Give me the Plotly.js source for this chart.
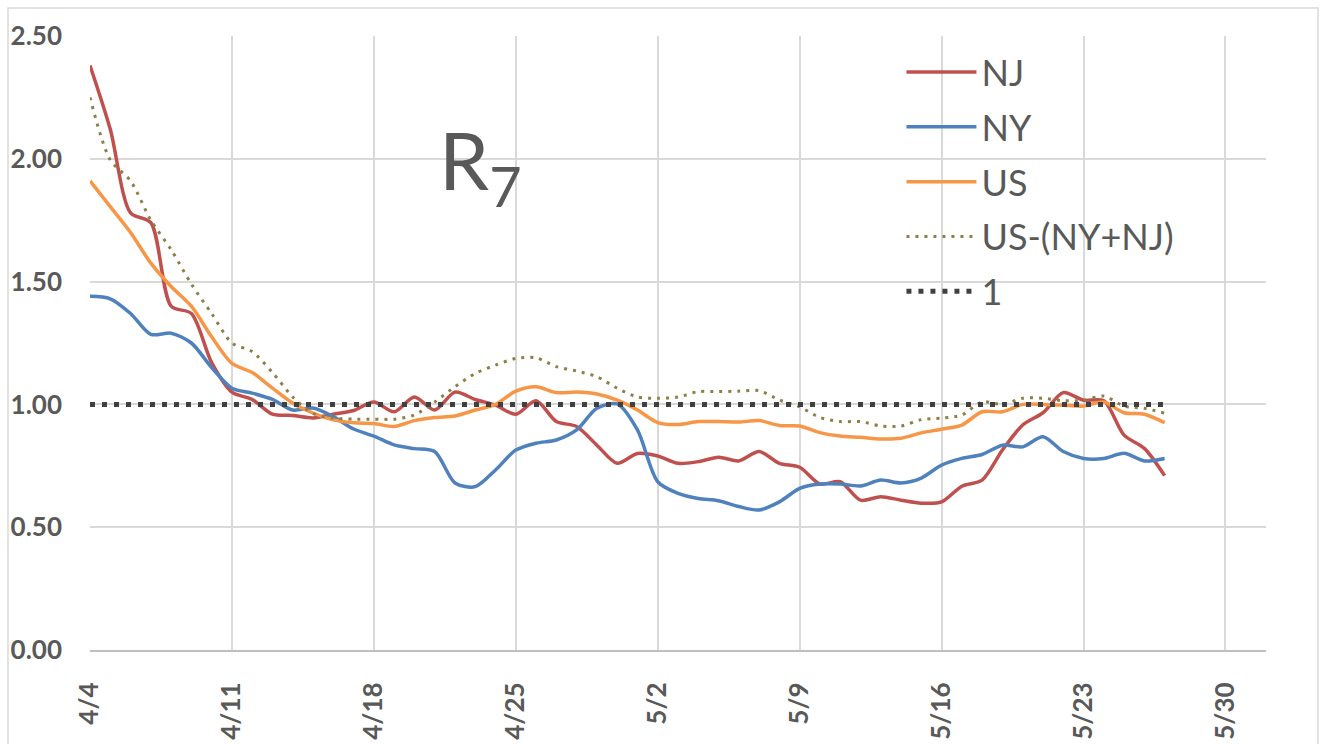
<!DOCTYPE html>
<html>
<head>
<meta charset="utf-8">
<script src="https://cdn.plot.ly/plotly-3.0.1.min.js"></script>
<style>
  html, body { margin: 0; padding: 0; background: #ffffff; }
  #chart { width: 1323px; height: 744px; }
</style>
</head>
<body>
<div id="chart"></div>
<script>
// ---- Data ----
const START_DATE = '2020-04-04';
const N_DAYS = 54; // 4/4 .. 5/27

const NJ = [2.38, 2.12, 1.78, 1.74, 1.40, 1.37, 1.17, 1.05, 1.02, 0.96,
            0.955, 0.945, 0.96, 0.975, 1.01, 0.97, 1.03, 0.977, 1.05, 1.02,
            0.997, 0.96, 1.015, 0.93, 0.91, 0.834, 0.76, 0.80, 0.79, 0.76,
            0.767, 0.785, 0.77, 0.808, 0.76, 0.744, 0.676, 0.685, 0.61, 0.624,
            0.61, 0.598, 0.603, 0.667, 0.692, 0.814, 0.916, 0.966, 1.048, 1.017,
            1.015, 0.875, 0.821, 0.71];

const NY = [1.44, 1.43, 1.37, 1.285, 1.29, 1.25, 1.15, 1.066, 1.046, 1.02,
            0.977, 0.985, 0.95, 0.90, 0.871, 0.835, 0.82, 0.808, 0.68, 0.665,
            0.733, 0.814, 0.842, 0.855, 0.896, 0.984, 1.002, 0.896, 0.685, 0.638,
            0.617, 0.608, 0.584, 0.57, 0.603, 0.658, 0.676, 0.676, 0.668, 0.692,
            0.68, 0.70, 0.753, 0.78, 0.796, 0.834, 0.827, 0.868, 0.808, 0.78,
            0.78, 0.801, 0.77, 0.78];

const US = [1.91, 1.805, 1.70, 1.575, 1.48, 1.40, 1.275, 1.167, 1.13, 1.066,
            1.005, 0.965, 0.937, 0.925, 0.922, 0.91, 0.934, 0.947, 0.953, 0.977,
            1.00, 1.054, 1.072, 1.048, 1.05, 1.042, 1.017, 0.977, 0.926, 0.918,
            0.93, 0.93, 0.928, 0.934, 0.914, 0.912, 0.885, 0.871, 0.866, 0.859,
            0.862, 0.884, 0.899, 0.916, 0.97, 0.97, 1.0, 1.0, 0.997, 0.993,
            1.01, 0.966, 0.96, 0.926];

const US_EX_NYNJ = [2.25, 1.995, 1.91, 1.75, 1.63, 1.49, 1.37, 1.25, 1.215, 1.13,
            1.03, 0.963, 0.944, 0.94, 0.94, 0.94, 0.957, 1.01, 1.072, 1.126,
            1.16, 1.187, 1.19, 1.154, 1.136, 1.113, 1.066, 1.03, 1.025, 1.03,
            1.052, 1.052, 1.054, 1.056, 1.018, 0.99, 0.947, 0.93, 0.93, 0.912,
            0.912, 0.938, 0.944, 0.957, 1.01, 1.0, 1.025, 1.025, 1.015, 1.017,
            1.034, 0.993, 0.984, 0.964];

const ONE = [1, 1, 1, 1, 1, 1, 1, 1, 1, 1,
             1, 1, 1, 1, 1, 1, 1, 1, 1, 1,
             1, 1, 1, 1, 1, 1, 1, 1, 1, 1,
             1, 1, 1, 1, 1, 1, 1, 1, 1, 1,
             1, 1, 1, 1, 1, 1, 1, 1, 1, 1,
             1, 1, 1, 1];

const SERIES_NAMES = ['NJ', 'NY', 'US', 'US-(NY+NJ)', '1'];
const Y_TICKS = [0, 0.5, 1.0, 1.5, 2.0, 2.5];

// dates (categories on the x axis)
const DATES = [];
(function () {
  const d0 = new Date(START_DATE + 'T00:00:00Z');
  for (let i = 0; i < N_DAYS; i++) {
    const d = new Date(d0.getTime() + i * 86400000);
    DATES.push(d.toISOString().slice(0, 10));
  }
})();

// ---- Styles ----
const COLORS = ['#C0504D', '#4F81BD', '#F79646', '#8C8048', '#404040'];
const VALUES = [NJ, NY, US, US_EX_NYNJ, ONE];

const traces = VALUES.map((vals, i) => {
  const t = {
    type: 'scatter',
    mode: 'lines',
    x: DATES,
    y: vals,
    name: SERIES_NAMES[i],
    legendgroup: 'g' + i,
    line: { color: COLORS[i], width: 3.5, shape: 'spline', smoothing: 0.8 },
    hoverinfo: 'x+y+name'
  };
  if (i === 3) t.line = { color: COLORS[i], width: 3, dash: '3px,6px', shape: 'spline', smoothing: 0.8 };
  if (i === 4) t.line = { color: COLORS[i], width: 5, dash: '5px,7px', shape: 'linear' };
  return t;
});

const FONT_TICK = 'Lato, "Liberation Sans", Arial, sans-serif';

const layout = {
  width: 1323,
  height: 744,
  paper_bgcolor: '#ffffff',
  plot_bgcolor: '#ffffff',
  margin: { l: 90, r: 57, t: 36, b: 94, pad: 0 },
  showlegend: true,
  legend: {
    x: 0.69, xanchor: 'left',
    y: 0.99, yanchor: 'top',
    bgcolor: 'rgba(0,0,0,0)',
    font: { family: FONT_TICK, size: 36, color: '#595959' },
    traceorder: 'grouped',
    tracegroupgap: 5,
    itemwidth: 70
  },
  xaxis: {
    type: 'date',
    range: ['2020-04-04', '2020-06-01'],
    tick0: '2020-04-04',
    dtick: 7 * 86400000,
    tickformat: '%-m/%-d',
    tickangle: -90,
    ticks: '',
    ticklabelstandoff: 20,
    tickfont: { family: FONT_TICK, size: 26, color: '#595959', weight: 'bold' },
    showgrid: true,
    gridcolor: '#D9D9D9',
    gridwidth: 2,
    showline: true,
    linecolor: '#BFBFBF',
    linewidth: 2,
    zeroline: false,
    fixedrange: true
  },
  yaxis: {
    range: [0, 2.5],
    tickvals: Y_TICKS,
    tickformat: '.2f',
    ticks: '',
    ticklabelstandoff: 27,
    tickfont: { family: FONT_TICK, size: 26, color: '#595959', weight: 'bold' },
    showgrid: true,
    gridcolor: '#D9D9D9',
    gridwidth: 2,
    showline: false,
    zeroline: false,
    fixedrange: true
  },
  annotations: [{
    xref: 'paper', yref: 'paper',
    x: 0.332, y: 0.79,
    xanchor: 'center', yanchor: 'middle',
    text: 'R<sub>7</sub>',
    showarrow: false,
    font: { family: FONT_TICK, size: 80, color: '#595959' }
  }],
  shapes: [{
    type: 'rect', xref: 'paper', yref: 'paper',
    x0: (8 - 90) / 1176, x1: (1318 - 90) / 1176,
    y0: -0.2, y1: (650 - 8) / 614,
    line: { color: '#D9D9D9', width: 1.5 },
    fillcolor: 'rgba(0,0,0,0)',
    layer: 'below'
  }]
};

Plotly.newPlot('chart', traces, layout, { displayModeBar: false, staticPlot: true });
</script>
</body>
</html>
